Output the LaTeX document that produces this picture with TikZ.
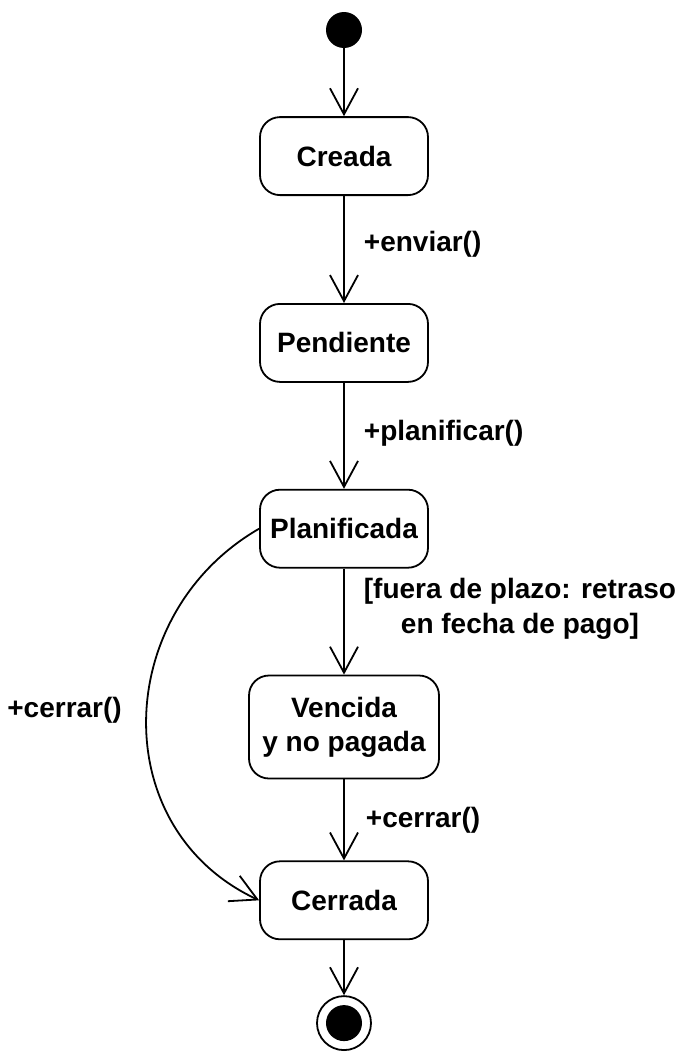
\documentclass[tikz,border=0pt]{standalone}
\usepackage{fontspec}
\setmainfont{Liberation Sans}
\usepackage{tikz}
\usetikzlibrary{arrows.meta, positioning}

\begin{document}
\begin{tikzpicture}[
    statebox/.style={draw, line width=1.8pt, rounded corners=20pt, minimum width=168pt, minimum height=78pt, align=center, font=\fontsize{28}{34}\selectfont\bfseries},
    initstate/.style={circle, fill=black, minimum size=36pt, inner sep=0pt},
    finalstate/.style={circle, draw, line width=1.8pt, minimum size=54pt, inner sep=0pt, path picture={\fill (path picture bounding box.center) circle (18pt);}},
    trans/.style={-{Straight Barb[length=26pt, width=28pt, line width=1.8pt]}, line width=1.8pt},
    lbl/.style={font=\fontsize{28}{35}\selectfont\bfseries, inner sep=2pt, align=center}
]
    \useasboundingbox (0,0) rectangle (691pt,-1063pt);

    % Estados
    \node[initstate] (inicio) at (344pt,-30pt) {};
    \node[statebox, below=68pt of inicio] (creada) {Creada};
    \node[statebox, below=107pt of creada] (pendiente) {Pendiente};
    \node[statebox, below=106pt of pendiente] (planificada) {Planificada};
    \node[statebox, below=106pt of planificada, minimum width=190pt, minimum height=103pt] (vencida) {Vencida\\y no pagada};
    \node[statebox, below=81pt of vencida] (cerrada) {Cerrada};
    \node[finalstate, below=55pt of cerrada] (fin) {};

    % Transiciones
    \draw[trans] (inicio) -- (creada);
    \draw[trans] (creada) -- node[lbl, right=17pt, yshift=5pt]{+enviar()} (pendiente);
    \draw[trans] (pendiente) -- node[lbl, right=17pt, yshift=3pt]{+planificar()} (planificada);
    \draw[trans] (planificada) -- node[lbl, right=17pt, yshift=13pt]{[fuera de plazo: retraso\\en fecha de pago]} (vencida);
    \draw[trans] (vencida) -- node[lbl, right=19pt]{+cerrar()} (cerrada);
    \draw[trans] (planificada.west) to[out=210, in=155, looseness=1.17] node[lbl, left=22pt, pos=0.48]{+cerrar()} (cerrada.west);
    \draw[trans] (cerrada) -- (fin);
\end{tikzpicture}
\end{document}
